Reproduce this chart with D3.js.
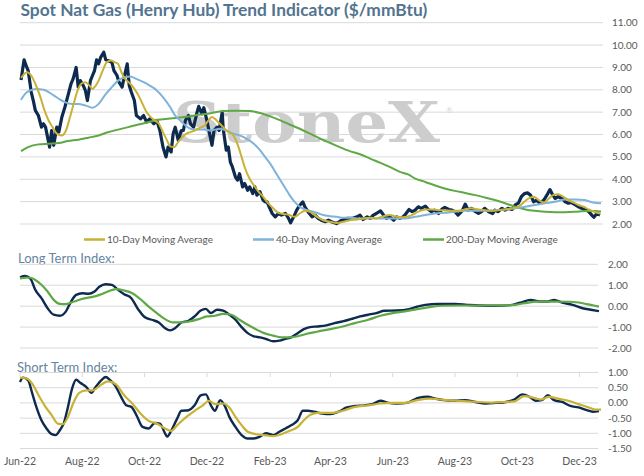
<!DOCTYPE html>
<html>
<head>
<meta charset="utf-8">
<script src="https://cdn.jsdelivr.net/npm/d3@7"></script>
<style>
  body { margin: 0; background: #fff; }
  text { font-family: Lato, "Noto Sans", sans-serif; }
</style>
</head>
<body>
<svg id="chart" width="644" height="476"></svg>
<script>
"use strict";

// values: [days since 1 Jun 2022, value]
var spotPrice = [[1,8.44],[4,9.34],[6,9.08],[8,8.86],[11,7.9],[13,7.52],[15,7.08],[18,6.85],[21,6.33],[23,6.48],[25,6.33],[29,5.44],[31,6.18],[33,5.52],[36,6.33],[38,6.11],[41,6.78],[44,7.23],[47,7.75],[50,8.27],[52,8.49],[55,9.0],[57,8.12],[59,8.41],[62,8.19],[64,7.97],[66,7.52],[69,8.41],[71,8.64],[73,8.86],[75,9.34],[77,9.16],[79,9.45],[82,9.68],[84,9.34],[86,9.31],[90,9.23],[92,8.86],[95,8.64],[97,8.34],[100,8.12],[102,8.56],[105,9.16],[107,8.19],[109,7.9],[112,7.52],[114,6.85],[118,6.7],[121,6.85],[124,6.56],[127,6.7],[131,6.48],[134,6.63],[137,6.18],[140,5.44],[143,5.0],[145,5.44],[148,5.22],[150,6.04],[152,6.33],[155,5.74],[158,6.18],[160,6.18],[162,6.63],[165,6.85],[167,6.48],[170,6.33],[173,6.93],[175,7.26],[178,6.93],[180,7.2],[183,6.63],[186,5.96],[188,5.52],[190,6.18],[193,6.33],[195,6.18],[198,7.0],[199,6.26],[202,5.3],[204,5.44],[206,4.77],[208,4.55],[211,4.1],[213,3.96],[215,4.25],[218,3.66],[220,3.81],[223,3.51],[225,3.66],[228,3.36],[230,3.66],[232,3.29],[235,3.44],[238,3.07],[240,2.99],[242,2.99],[244,2.77],[247,2.47],[250,2.32],[253,2.47],[256,2.4],[260,2.47],[263,2.25],[265,2.05],[268,2.32],[271,2.62],[274,2.84],[277,2.99],[279,2.77],[282,2.55],[286,2.32],[289,2.4],[292,2.25],[295,2.17],[299,2.1],[302,2.17],[305,2.1],[310,2.02],[315,2.17],[320,2.25],[325,2.25],[330,2.32],[333,2.4],[336,2.2],[340,2.32],[343,2.25],[346,2.4],[349,2.47],[353,2.59],[356,2.4],[359,2.25],[362,2.32],[366,2.17],[369,2.32],[372,2.25],[375,2.32],[377,2.4],[381,2.65],[384,2.55],[387,2.62],[390,2.77],[393,2.7],[397,2.8],[400,2.65],[403,2.55],[406,2.62],[410,2.47],[413,2.65],[416,2.74],[420,2.65],[423,2.62],[426,2.55],[429,2.4],[433,2.59],[436,2.89],[439,2.62],[442,2.7],[446,2.55],[449,2.47],[452,2.55],[455,2.7],[459,2.55],[463,2.47],[465,2.62],[468,2.55],[472,2.7],[475,2.62],[478,2.7],[482,2.65],[485,2.85],[488,2.93],[491,3.22],[494,3.36],[497,3.39],[500,3.29],[503,2.99],[506,3.07],[509,2.93],[513,3.07],[516,3.29],[519,3.54],[521,3.36],[524,3.14],[527,3.22],[531,3.14],[534,2.99],[537,2.93],[540,2.96],[544,2.85],[547,2.77],[550,2.7],[553,2.65],[557,2.55],[560,2.4],[562,2.3],[565,2.47],[568,2.4]];

var ma10 = [[1,8.53],[7,8.79],[11,8.64],[15,8.27],[20,7.67],[24,7.08],[28,6.63],[32,6.33],[36,6.04],[41,5.96],[45,6.18],[49,6.78],[53,7.45],[57,8.04],[60,8.27],[64,8.34],[68,8.19],[71,8.04],[73,8.12],[77,8.41],[81,8.86],[85,9.23],[89,9.31],[93,9.23],[96,9.16],[100,8.71],[103,8.49],[108,8.27],[112,8.04],[116,7.75],[120,7.37],[124,7.0],[128,6.78],[132,6.63],[136,6.48],[140,6.11],[144,5.74],[147,5.47],[151,5.44],[155,5.67],[159,5.89],[163,6.04],[167,6.11],[171,6.18],[176,6.3],[181,6.4],[184,6.6],[188,6.78],[191,6.7],[194,6.56],[199,6.33],[204,6.11],[209,5.96],[214,5.44],[217,5.0],[220,4.55],[224,4.1],[229,3.73],[233,3.48],[238,3.22],[243,2.93],[248,2.7],[253,2.5],[258,2.45],[264,2.4],[269,2.32],[274,2.47],[279,2.59],[284,2.55],[291,2.32],[297,2.17],[304,2.1],[310,2.05],[317,2.1],[323,2.17],[330,2.2],[336,2.25],[343,2.28],[349,2.25],[356,2.35],[362,2.4],[369,2.32],[375,2.3],[384,2.4],[390,2.55],[397,2.65],[403,2.65],[410,2.62],[416,2.62],[423,2.59],[429,2.59],[436,2.65],[442,2.7],[449,2.65],[455,2.62],[462,2.59],[468,2.62],[475,2.65],[482,2.7],[488,2.77],[493,2.96],[498,3.14],[503,3.22],[508,3.07],[513,2.96],[518,3.14],[522,3.29],[527,3.33],[532,3.22],[537,3.07],[542,2.96],[547,2.85],[552,2.77],[557,2.65],[562,2.55],[568,2.47]];

var ma40 = [[1,7.55],[5,7.82],[10,7.97],[16,8.04],[23,8.0],[28,7.9],[33,7.75],[38,7.6],[44,7.45],[51,7.37],[57,7.37],[64,7.3],[71,7.2],[77,7.37],[83,7.75],[90,8.12],[96,8.41],[103,8.56],[108,8.59],[114,8.49],[121,8.34],[127,8.19],[134,7.97],[140,7.67],[147,7.23],[152,6.85],[157,6.63],[162,6.41],[167,6.26],[173,6.22],[180,6.22],[186,6.18],[196,6.26],[202,6.18],[209,6.04],[215,5.96],[222,5.81],[229,5.59],[235,5.3],[240,5.0],[245,4.7],[250,4.33],[255,3.96],[260,3.59],[264,3.29],[269,2.99],[274,2.77],[279,2.65],[284,2.59],[291,2.5],[297,2.4],[304,2.35],[310,2.32],[317,2.28],[323,2.28],[330,2.25],[349,2.25],[369,2.25],[377,2.25],[387,2.32],[397,2.4],[406,2.47],[416,2.5],[426,2.55],[436,2.59],[455,2.59],[465,2.62],[475,2.65],[485,2.7],[495,2.77],[504,2.85],[514,2.93],[524,2.99],[534,3.1],[544,3.1],[553,3.07],[561,2.96],[569,2.93]];

var ma200 = [[1,5.26],[8,5.44],[18,5.56],[28,5.59],[38,5.62],[47,5.71],[57,5.77],[67,5.86],[77,5.96],[86,6.1],[96,6.22],[106,6.33],[116,6.45],[126,6.56],[135,6.66],[145,6.71],[155,6.75],[165,6.81],[175,6.88],[184,6.93],[199,7.05],[212,7.06],[225,7.05],[235,6.96],[245,6.81],[255,6.63],[264,6.45],[274,6.26],[284,6.04],[294,5.81],[304,5.62],[313,5.44],[323,5.26],[333,5.12],[343,4.92],[353,4.73],[362,4.55],[372,4.33],[380,4.22],[387,4.03],[397,3.88],[406,3.73],[416,3.59],[426,3.48],[436,3.39],[446,3.29],[455,3.19],[465,3.07],[475,2.93],[485,2.77],[495,2.65],[504,2.59],[514,2.55],[524,2.53],[534,2.53],[544,2.55],[553,2.58],[563,2.58],[569,2.56]];

var longIndex = [[0,1.38],[5,1.44],[10,1.33],[15,0.78],[21,0.38],[27,-0.1],[33,-0.41],[39,-0.46],[45,-0.25],[50,0.22],[55,0.54],[61,0.62],[67,0.59],[73,0.7],[78,0.94],[84,1.05],[90,1.02],[96,0.78],[102,0.57],[109,0.38],[116,-0.17],[122,-0.52],[129,-0.65],[136,-0.78],[142,-1.05],[147,-1.16],[152,-1.05],[158,-0.78],[165,-0.7],[171,-0.49],[177,-0.21],[182,-0.13],[187,-0.33],[193,-0.17],[199,-0.21],[205,-0.41],[211,-0.65],[217,-1.0],[223,-1.29],[229,-1.44],[235,-1.49],[241,-1.57],[248,-1.68],[254,-1.65],[260,-1.56],[266,-1.48],[272,-1.29],[278,-1.1],[284,-1.0],[292,-0.97],[300,-0.92],[308,-0.81],[316,-0.73],[324,-0.62],[333,-0.49],[341,-0.41],[349,-0.33],[357,-0.22],[369,-0.21],[381,-0.14],[389,-0.02],[397,0.06],[409,0.1],[426,0.1],[438,0.06],[450,0.03],[466,0.02],[482,0.06],[490,0.17],[500,0.3],[509,0.22],[517,0.22],[523,0.3],[531,0.17],[541,0.06],[551,-0.1],[559,-0.17],[567,-0.24]];

var longSignal = [[0,1.33],[9,1.37],[15,1.25],[21,1.02],[27,0.7],[33,0.3],[39,0.11],[45,0.1],[53,0.22],[61,0.35],[70,0.43],[78,0.54],[86,0.7],[94,0.81],[102,0.75],[110,0.62],[118,0.33],[126,-0.02],[134,-0.33],[142,-0.62],[150,-0.78],[158,-0.78],[166,-0.73],[175,-0.62],[183,-0.49],[191,-0.46],[199,-0.37],[207,-0.41],[215,-0.65],[223,-0.89],[231,-1.1],[239,-1.29],[248,-1.41],[256,-1.49],[264,-1.49],[272,-1.44],[280,-1.33],[292,-1.21],[304,-1.1],[316,-0.97],[328,-0.81],[341,-0.65],[353,-0.46],[365,-0.33],[377,-0.25],[389,-0.14],[401,-0.05],[413,0.02],[430,0.03],[446,0.03],[466,0.03],[482,0.05],[494,0.14],[506,0.22],[523,0.22],[539,0.21],[551,0.14],[559,0.06],[567,-0.02]];

var shortIndex = [[0,0.69],[3,0.83],[8,0.74],[12,0.31],[16,-0.13],[21,-0.57],[26,-0.84],[31,-1.03],[35,-1.06],[39,-0.9],[43,-0.66],[47,-0.13],[51,0.47],[55,0.76],[59,0.66],[65,0.52],[70,0.33],[74,0.52],[80,0.76],[84,0.85],[88,0.76],[93,0.58],[99,0.2],[104,-0.08],[109,-0.13],[114,-0.4],[120,-0.79],[126,-0.84],[132,-0.66],[137,-0.68],[142,-1.0],[144,-1.11],[148,-0.92],[154,-0.51],[158,-0.26],[165,-0.24],[171,-0.08],[177,0.25],[182,0.28],[187,-0.08],[191,-0.26],[196,0.09],[201,-0.13],[205,-0.46],[211,-0.79],[217,-1.06],[223,-1.17],[229,-1.17],[235,-1.11],[241,-1.0],[248,-1.06],[254,-0.95],[260,-0.84],[266,-0.73],[272,-0.57],[277,-0.26],[282,-0.26],[288,-0.29],[296,-0.35],[304,-0.37],[312,-0.29],[320,-0.15],[328,-0.1],[337,-0.08],[345,-0.04],[353,0.07],[361,0.0],[369,-0.02],[379,0.0],[385,0.09],[391,0.17],[399,0.2],[407,0.14],[415,0.09],[426,0.07],[436,0.09],[446,0.03],[456,-0.02],[466,0.0],[476,0.03],[484,0.11],[492,0.28],[499,0.2],[505,0.07],[511,0.09],[517,0.25],[523,0.09],[531,0.03],[539,-0.1],[547,-0.15],[555,-0.24],[561,-0.29],[567,-0.27]];

var shortSignal = [[0,0.83],[7,0.8],[13,0.58],[19,0.2],[25,-0.13],[31,-0.4],[37,-0.68],[42,-0.7],[47,-0.46],[52,-0.02],[58,0.33],[65,0.41],[71,0.41],[80,0.61],[86,0.71],[94,0.61],[102,0.25],[110,-0.02],[118,-0.35],[126,-0.59],[134,-0.68],[142,-0.84],[148,-0.92],[154,-0.73],[163,-0.46],[171,-0.26],[179,-0.08],[185,0.07],[191,-0.04],[199,-0.02],[205,-0.15],[211,-0.46],[217,-0.73],[223,-0.95],[231,-1.03],[239,-1.06],[248,-1.09],[256,-1.03],[264,-0.92],[272,-0.79],[278,-0.57],[284,-0.4],[292,-0.33],[304,-0.33],[316,-0.26],[328,-0.13],[341,-0.08],[353,-0.02],[365,0.0],[377,0.0],[389,0.09],[401,0.14],[413,0.11],[426,0.07],[438,0.05],[450,0.03],[462,0.01],[474,0.03],[484,0.05],[494,0.22],[503,0.17],[510,0.11],[518,0.2],[527,0.14],[537,0.07],[547,-0.04],[557,-0.15],[563,-0.22],[569,-0.22]];

var topTicks = [2, 3, 4, 5, 6, 7, 8, 9, 10, 11];
var longTicks = [-2, -1, 0, 1, 2];
var shortTicks = [-1.5, -1, -0.5, 0, 0.5, 1];
var legendLabels = ["10-Day Moving Average", "40-Day Moving Average", "200-Day Moving Average"];

var colors = { spot: "#0e2b4f", ma10: "#c8b236", ma40: "#7fb3da", ma200: "#5ea845", grid: "#d9d9d9", label: "#595959", title: "#52748f" };

var svg = d3.select("#chart");
var startDate = new Date(2022, 5, 1);
function toDate(day) { return d3.timeDay.offset(startDate, day); }

var x = d3.scaleTime()
  .domain([startDate, new Date(2023, 11, 22)])
  .range([20, 601]);

var fmt = d3.formatLocale({ decimal: ".", thousands: ",", grouping: [3], currency: ["$", ""], minus: "-" }).format(".2f");

function panel(cfg) {
  var g = svg.append("g");
  var y = d3.scaleLinear().domain(cfg.domain).range(cfg.range);

  g.selectAll("line.grid")
    .data(cfg.ticks)
    .enter().append("line")
    .attr("x1", 20)
    .attr("x2", cfg.gridRight)
    .attr("y1", function(d) { return y(d); })
    .attr("y2", function(d) { return y(d); })
    .attr("stroke", colors.grid)
    .attr("stroke-width", 1);

  g.selectAll("text.tick")
    .data(cfg.ticks)
    .enter().append("text")
    .attr("x", cfg.labelX)
    .attr("y", function(d) { return y(d); })
    .attr("dy", "0.35em")
    .attr("fill", colors.label)
    .style("font-size", "10px")
    .text(function(d) { return fmt(d); });

  if (cfg.before) cfg.before(g);

  cfg.series.forEach(function(s) {
    var line = d3.line()
      .x(function(d) { return x(toDate(d[0])); })
      .y(function(d) { return y(d[1]); })
      .curve(s.smooth ? d3.curveMonotoneX : d3.curveLinear);
    g.append("path")
      .datum(s.data)
      .attr("fill", "none")
      .attr("stroke", s.color)
      .attr("stroke-width", s.width)
      .attr("stroke-linejoin", "round")
      .attr("d", line);
  });
  return y;
}

// title
var title = svg.append("text")
  .attr("x", 20.5)
  .attr("y", 16)
  .attr("fill", colors.title)
  .style("font-size", "16.5px")
  .style("font-weight", "700")
  .text("Spot Nat Gas (Henry Hub) Trend Indicator ($/mmBtu)");
var tw = title.node().getComputedTextLength();
title.style("font-size", (16.5 * 407 / tw) + "px");

panel({
  domain: [2, 11], range: [224, 22.7], ticks: topTicks, gridRight: 603, labelX: 612,
  before: function(g) {
    g.append("text")
      .attr("x", 173)
      .attr("y", 142)
      .attr("textLength", 267)
      .attr("lengthAdjust", "spacingAndGlyphs")
      .attr("fill", "#cdcdcd")
      .style("font-family", "'DejaVu Serif', 'Liberation Serif', serif")
      .style("font-weight", "700")
      .style("font-size", "56px")
      .text("StoneX");
    g.append("text")
      .attr("x", 446)
      .attr("y", 113)
      .attr("fill", "#d4d4d4")
      .style("font-size", "8px")
      .text("\u00AE");
  },
  series: [
    { data: spotPrice, color: colors.spot, width: 3.2, smooth: false },
    { data: ma200, color: colors.ma200, width: 2, smooth: true },
    { data: ma40, color: colors.ma40, width: 2, smooth: true },
    { data: ma10, color: colors.ma10, width: 2, smooth: true }
  ]
});

// legend
var legendX = [84, 253, 423];
var legendColors = [colors.ma10, colors.ma40, colors.ma200];
var legend = svg.append("g").attr("transform", "translate(0,239.5)");
legendLabels.forEach(function(label, i) {
  legend.append("line")
    .attr("x1", legendX[i]).attr("x2", legendX[i] + 21)
    .attr("y1", 0).attr("y2", 0)
    .attr("stroke", legendColors[i])
    .attr("stroke-width", 2.5);
  legend.append("text")
    .attr("x", legendX[i] + 23)
    .attr("dy", "0.35em")
    .attr("fill", colors.label)
    .style("font-size", "10px")
    .text(label);
});

// section titles
svg.append("text")
  .attr("x", 18).attr("y", 258.5).attr("dy", "0.35em")
  .attr("fill", "#6585a0")
  .style("font-size", "13px")
  .text("Long Term Index:");
svg.append("text")
  .attr("x", 17).attr("y", 367).attr("dy", "0.35em")
  .attr("fill", "#6585a0")
  .style("font-size", "13px")
  .text("Short Term Index:");

panel({
  domain: [-2, 2], range: [348, 264.3], ticks: longTicks, gridRight: 598, labelX: 608,
  series: [
    { data: longIndex, color: colors.spot, width: 2.4, smooth: true },
    { data: longSignal, color: colors.ma200, width: 2.2, smooth: true }
  ]
});

panel({
  domain: [-1.5, 1], range: [448.5, 372.5], ticks: shortTicks, gridRight: 598, labelX: 608,
  series: [
    { data: shortIndex, color: colors.spot, width: 2.4, smooth: true },
    { data: shortSignal, color: colors.ma10, width: 2.2, smooth: true }
  ]
});

// month axis: ticks hang from the top line of the short term panel, labels at the bottom
var months = d3.timeMonth.range(new Date(2022, 5, 1), new Date(2023, 11, 2), 2);
svg.append("g")
  .selectAll("line")
  .data(months)
  .enter().append("line")
  .attr("x1", function(d) { return x(d); })
  .attr("x2", function(d) { return x(d); })
  .attr("y1", 372.5)
  .attr("y2", 377)
  .attr("stroke", colors.grid);
svg.append("g")
  .selectAll("text")
  .data(months)
  .enter().append("text")
  .attr("x", function(d) { return x(d); })
  .attr("y", 461.5)
  .attr("dy", "0.35em")
  .attr("text-anchor", "middle")
  .attr("fill", colors.label)
  .style("font-size", "10.5px")
  .text(d3.timeFormat("%b-%y"));
</script>
</body>
</html>
